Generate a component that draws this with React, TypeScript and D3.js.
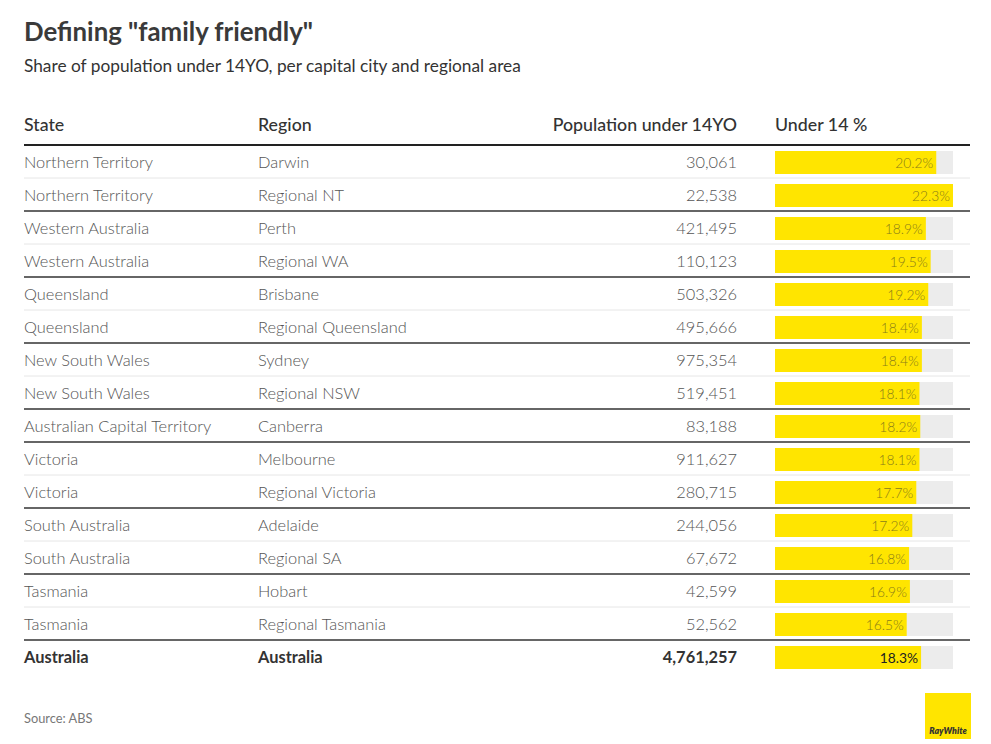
import React from "react";
import * as d3 from "d3";

const states = [
  "Northern Territory", "Northern Territory", "Western Australia", "Western Australia",
  "Queensland", "Queensland", "New South Wales", "New South Wales",
  "Australian Capital Territory", "Victoria", "Victoria", "South Australia",
  "South Australia", "Tasmania", "Tasmania", "Australia",
];
const regions = [
  "Darwin", "Regional NT", "Perth", "Regional WA", "Brisbane", "Regional Queensland",
  "Sydney", "Regional NSW", "Canberra", "Melbourne", "Regional Victoria", "Adelaide",
  "Regional SA", "Hobart", "Regional Tasmania", "Australia",
];
const population = [
  30061, 22538, 421495, 110123, 503326, 495666, 975354, 519451, 83188, 911627,
  280715, 244056, 67672, 42599, 52562, 4761257,
];
const under14 = [
  20.2, 22.3, 18.9, 19.5, 19.2, 18.4, 18.4, 18.1, 18.2, 18.1, 17.7, 17.2, 16.8, 16.9, 16.5, 18.3,
];
const headers = ["State", "Region", "Population under 14YO", "Under 14 %"];

const W = 991, H = 744;
const FONT = "Lato, 'Open Sans', sans-serif";

export default function App() {
  const n = states.length;
  const y = d3.scaleBand<number>().domain(d3.range(n)).range([145, 145 + 33 * n]).padding(0);
  const x = d3.scaleLinear().domain([0, d3.max(under14) as number]).range([775, 953]);
  const fmt = d3.format(",");
  const lineX1 = 24, lineX2 = 970;

  return (
    <div style={{ position: "absolute", left: 0, top: 0 }}>
      <svg width={W} height={H} style={{ display: "block", background: "#fff" }} fontFamily={FONT}>
        <text x={24} y={41} fontSize={25.8} fontWeight={700} fill="#3a3a3a">Defining "family friendly"</text>
        <text x={24} y={72} fontSize={17.3} fill="#333">Share of population under 14YO, per capital city and regional area</text>

        <text x={24} y={131} fontSize={17.8} fontWeight={500} fill="#333">{headers[0]}</text>
        <text x={258} y={131} fontSize={17.8} fontWeight={500} fill="#333">{headers[1]}</text>
        <text x={737} y={131} fontSize={17.8} fontWeight={500} fill="#333" textAnchor="end">{headers[2]}</text>
        <text x={775} y={131} fontSize={17.8} fontWeight={500} fill="#333">{headers[3]}</text>
        <line x1={lineX1} x2={lineX2} y1={145} y2={145} stroke="#222" strokeWidth={2} />

        {d3.range(n).map((i) => {
          const top = y(i) as number;
          const bh = y.bandwidth();
          const last = i === n - 1;
          const nextDiff = i < n - 1 && states[i + 1] !== states[i];
          const cy = top + bh / 2 + 6.5;
          const tf = last ? "#333" : "#555";
          const fw = last ? 700 : 300;
          return (
            <g key={i}>
              <text x={24} y={cy} fontSize={16.4} fontWeight={fw} fill={tf}>{states[i]}</text>
              <text x={258} y={cy} fontSize={16.4} fontWeight={fw} fill={tf}>{regions[i]}</text>
              <text x={737} y={cy} fontSize={16.4} fontWeight={fw} fill={tf} textAnchor="end">{fmt(population[i])}</text>
              <rect x={x(0)} y={top + 6} width={x.range()[1] - x(0)} height={23} fill="#ececec" />
              <rect x={x(0)} y={top + 6} width={x(under14[i]) - x(0)} height={23} fill="#ffe500" />
              <text x={x(under14[i]) - 3} y={top + 6 + 16.5} fontSize={13.8} fontWeight={last ? 400 : 300}
                fill={last ? "#222" : "#8a7d1a"} textAnchor="end">{under14[i].toFixed(1)}%</text>
              {i < n - 1 && (
                <line x1={lineX1} x2={lineX2} y1={top + bh} y2={top + bh}
                  stroke={nextDiff ? "#333" : "#e6e6e6"} strokeWidth={nextDiff ? 1.3 : 1} />
              )}
            </g>
          );
        })}

        <text x={24} y={723} fontSize={12.8} fill="#777">Source: ABS</text>
        <rect x={925} y={693} width={46} height={46} fill="#ffe500" />
        <text x={948} y={734} fontSize={8.8} fontWeight={800} fontStyle="italic" fill="#333" textAnchor="middle">RayWhite</text>
      </svg>
    </div>
  );
}
